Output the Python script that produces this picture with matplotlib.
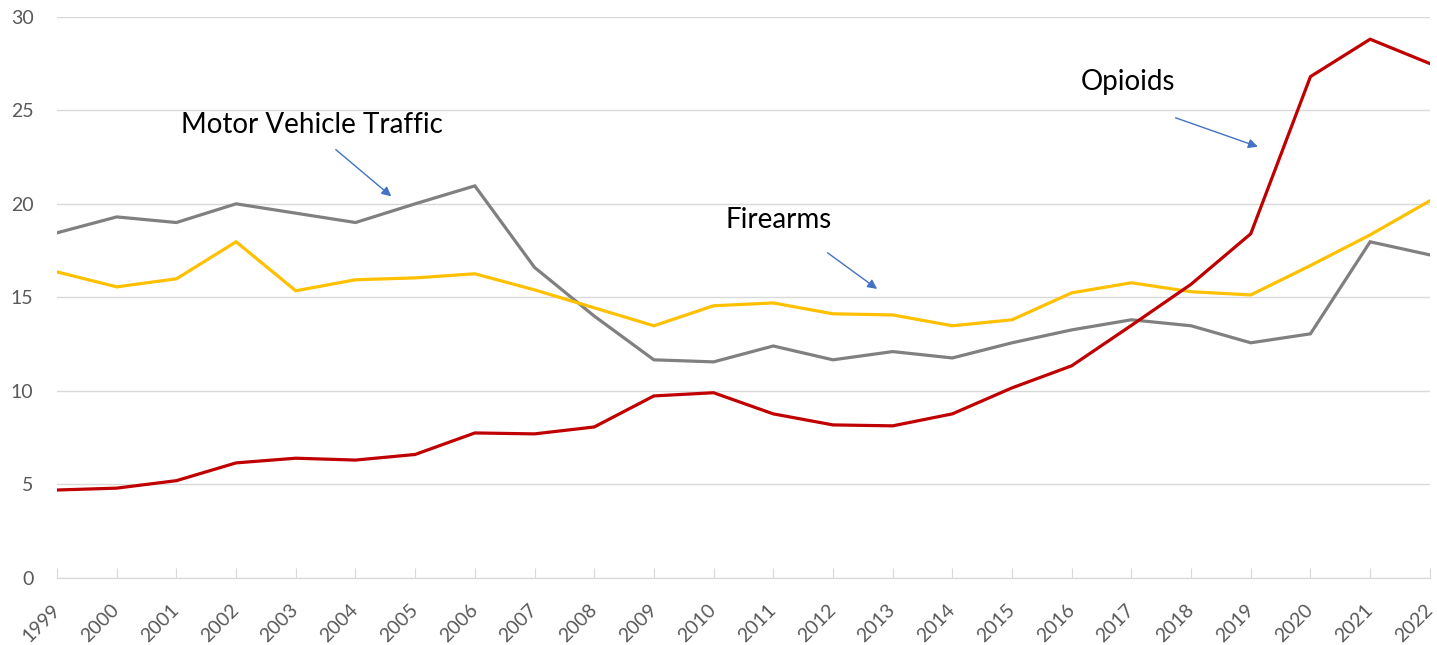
import matplotlib.pyplot as plt

plt.rcParams['font.family'] = ['Lato', 'DejaVu Sans']

years = list(range(1999, 2023))
motor_vehicle = [18.45, 19.3, 19.0, 20.0, 19.5, 19.0, 20.0, 20.96, 16.6, 14.0, 11.66, 11.55,
                 12.4, 11.66, 12.1, 11.76, 12.57, 13.26, 13.8, 13.48, 12.57, 13.05, 17.97, 17.27]
firearms = [16.36, 15.56, 15.99, 17.97, 15.35, 15.94, 16.04, 16.26, 15.4, 14.44, 13.48, 14.55,
            14.7, 14.12, 14.06, 13.48, 13.8, 15.24, 15.78, 15.3, 15.13, 16.7, 18.34, 20.16]
opioids = [4.7, 4.8, 5.2, 6.15, 6.4, 6.3, 6.6, 7.75, 7.7, 8.07, 9.73, 9.9,
           8.77, 8.18, 8.13, 8.77, 10.16, 11.34, 13.5, 15.7, 18.4, 26.8, 28.8, 27.5]

fig = plt.figure(figsize=(14.37, 6.45), dpi=100)
ax = fig.add_axes([0.0397, 0.104, 0.9553, 0.87])

ax.plot(years, motor_vehicle, color='#808080', lw=2.3, solid_joinstyle='miter')
ax.plot(years, firearms, color='#FFC000', lw=2.3, solid_joinstyle='miter')
ax.plot(years, opioids, color='#C00000', lw=2.3, solid_joinstyle='miter')

ax.set_xlim(1999, 2022)
ax.set_ylim(0, 30)
ax.set_yticks([0, 5, 10, 15, 20, 25, 30])
ax.set_xticks(years)
ax.set_xticklabels([str(y) for y in years], rotation=45, ha='right', va='center',
                   rotation_mode='anchor')
ax.yaxis.grid(True, color='#D9D9D9', lw=1)
ax.set_axisbelow(True)

for side in ['top', 'right', 'left']:
    ax.spines[side].set_visible(False)
ax.spines['bottom'].set_color('#D9D9D9')
ax.tick_params(axis='y', length=0, labelsize=14, labelcolor='#595959', pad=17)
ax.tick_params(axis='x', direction='in', length=7, color='#D9D9D9', labelsize=14,
               labelcolor='#595959', pad=21)

# callout labels with arrows
arrow = dict(arrowstyle='-|>', color='#4472C4', lw=1, mutation_scale=14, shrinkA=0, shrinkB=0)
ax.text(2003.27, 24.2, 'Motor Vehicle Traffic', fontsize=20, ha='center', va='center')
ax.annotate('', xy=(2004.6, 20.4), xytext=(2003.67, 22.9), arrowprops=arrow)
ax.text(2011.09, 19.14, 'Firearms', fontsize=20, ha='center', va='center')
ax.annotate('', xy=(2012.74, 15.45), xytext=(2011.91, 17.38), arrowprops=arrow)
ax.text(2016.94, 26.5, 'Opioids', fontsize=20, ha='center', va='center')
ax.annotate('', xy=(2019.12, 23.05), xytext=(2017.74, 24.6), arrowprops=arrow)

fig.savefig('out.png', dpi=100)
